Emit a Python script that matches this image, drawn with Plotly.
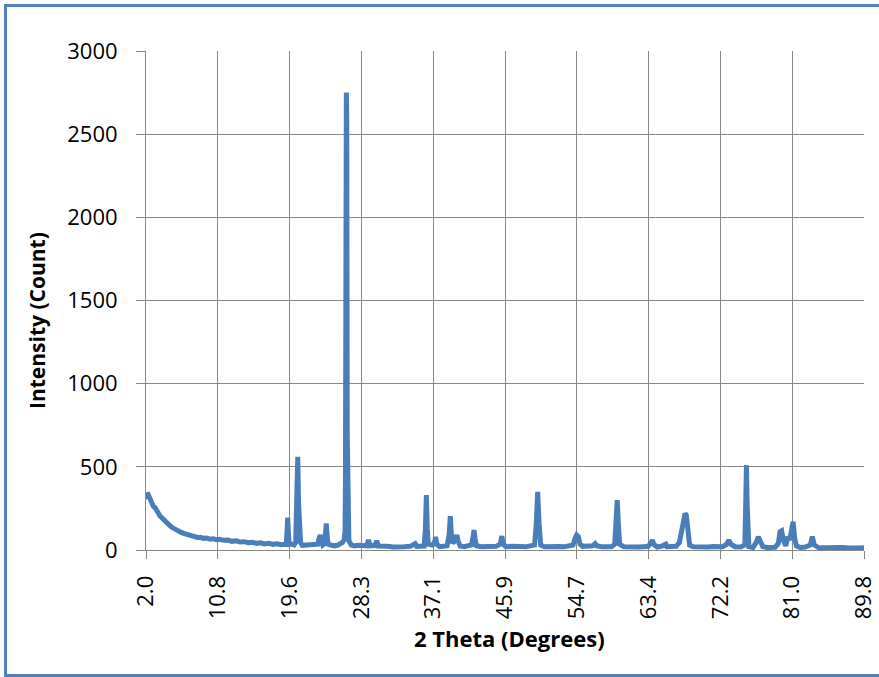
import plotly.graph_objects as go

# XRD scan: diffraction angle (2-theta, degrees) and measured intensity (counts)
two_theta = [
    2.0, 2.15, 2.3, 2.5, 2.7, 2.9, 3.1, 3.3, 3.5, 3.7, 3.9, 4.1, 4.3, 4.5, 4.8,
    5.1, 5.4, 5.7, 6.0, 6.3, 6.6, 6.9, 7.2, 7.5, 7.8, 8.1, 8.4, 8.7, 9.0, 9.4,
    9.8, 10.2, 10.6, 11.0, 11.5, 12.0, 12.5, 13.0, 13.5, 14.0, 14.5, 15.0, 15.5,
    16.0, 16.5, 17.0, 17.5, 18.0, 18.5, 19.0,
    19.15, 19.25, 19.32, 19.4, 19.5, 19.8, 20.1, 20.3, 20.45, 20.55, 20.65,
    20.72, 20.8, 20.9, 21.1, 21.5, 21.9, 22.3, 22.7, 23.0, 23.15, 23.3, 23.45,
    23.6, 23.85, 23.95, 24.03, 24.12, 24.25, 24.6, 25.0, 25.4, 25.7, 26.0, 26.2,
    26.33, 26.38, 26.43, 26.49, 26.54, 26.6, 26.68, 26.8, 27.1, 27.5, 28.0, 28.5,
    29.0, 29.2, 29.4, 30.0, 30.2, 30.4, 30.9, 31.5, 32.2, 32.9, 33.6, 34.3, 34.7,
    34.9, 35.1, 35.6, 36.0, 36.15, 36.27, 36.38, 36.5, 37.0, 37.25, 37.4, 37.55,
    37.9, 38.4, 38.8, 39.05, 39.2, 39.33, 39.5, 39.8, 40.0, 40.15, 40.4, 40.9,
    41.4, 41.8, 41.98, 42.1, 42.22, 42.4, 43.0, 43.6, 44.2, 44.8, 45.3, 45.5,
    45.65, 46.0, 46.6, 47.2, 47.8, 48.4, 49.0, 49.5, 49.7, 49.88, 50.05, 50.25,
    50.7, 51.3, 51.9, 52.5, 53.1, 53.7, 54.2, 54.45, 54.65, 54.85, 55.05, 55.4,
    56.0, 56.6, 56.9, 57.1, 57.7, 58.3, 58.9, 59.3, 59.45, 59.6, 59.75, 59.9,
    60.4, 61.0, 61.6, 62.2, 62.8, 63.4, 63.75, 63.9, 64.05, 64.5, 65.0, 65.4,
    65.55, 65.7, 66.3, 66.8, 67.2, 67.45, 67.7, 67.9, 68.05, 68.25, 68.45, 68.9,
    69.5, 70.1, 70.7, 71.3, 71.9, 72.5, 73.0, 73.25, 73.5, 74.0, 74.7, 75.2,
    75.32, 75.4, 75.48, 75.6, 75.7, 76.2, 76.65, 76.85, 77.05, 77.4, 77.9, 78.4,
    78.9, 79.3, 79.5, 79.7, 79.9, 80.2, 80.45, 80.7, 80.95, 81.1, 81.3, 81.5,
    82.0, 82.6, 83.2, 83.45, 83.7, 84.2, 84.9, 85.6, 86.3, 87.0, 87.7, 88.4,
    89.1, 89.77,
]
intensity = [
    345, 325, 330, 300, 290, 262, 255, 232, 222, 205, 195, 180, 172, 160, 150,
    138, 130, 120, 114, 106, 100, 96, 88, 90, 80, 82, 74, 76, 70, 72,
    65, 68, 62, 64, 58, 60, 52, 55, 48, 50, 44, 46, 40,
    43, 36, 40, 34, 37, 32, 35,
    34, 120, 195, 110, 34, 36, 30, 45, 300, 560, 280,
    120, 130, 45, 28, 30, 25, 28, 32, 35, 70, 90, 50,
    30, 40, 110, 160, 100, 35, 30, 25, 28, 35, 45, 60,
    110, 400, 2000, 2750, 2600, 700, 150, 55, 30, 25, 28, 25,
    25, 60, 25, 28, 55, 24, 20, 22, 18, 22, 19, 22, 30,
    38, 22, 20, 24, 120, 330, 130, 35, 30, 40, 78, 35,
    20, 22, 25, 90, 204, 90, 40, 60, 90, 55, 24, 20,
    22, 30, 80, 120, 70, 25, 20, 22, 18, 22, 35, 84,
    35, 20, 22, 18, 21, 19, 22, 30, 150, 350, 160, 30,
    20, 22, 18, 21, 19, 22, 30, 70, 90, 80, 35, 22,
    20, 25, 38, 25, 20, 22, 20, 35, 150, 300, 150, 35,
    20, 18, 22, 18, 20, 22, 45, 60, 35, 18, 22, 30,
    35, 20, 20, 22, 45, 120, 150, 220, 210, 90, 30, 20,
    18, 22, 18, 21, 19, 20, 35, 60, 35, 20, 18, 30,
    300, 510, 280, 40, 20, 15, 50, 80, 50, 20, 15, 18,
    16, 40, 110, 116, 60, 25, 80, 60, 160, 170, 70, 25,
    15, 18, 30, 80, 30, 15, 13, 16, 12, 15, 13, 16,
    12, 14,
]

# Axis ticks
x_tick_pos = [2.0, 10.78, 19.55, 28.33, 37.11, 45.89, 54.66, 63.44, 72.22, 80.99, 89.77]
x_tick_text = ["2.0", "10.8", "19.6", "28.3", "37.1", "45.9", "54.7", "63.4", "72.2", "81.0", "89.8"]
y_tick_vals = [0, 500, 1000, 1500, 2000, 2500, 3000]

LINE_BLUE = "#4a7ebb"
GRID = "#878787"
FONT = "Open Sans"

fig = go.Figure()
fig.add_trace(go.Scatter(
    x=two_theta, y=intensity, mode="lines",
    line=dict(color=LINE_BLUE, width=5),
    showlegend=False, hoverinfo="x+y",
))

W, H = 879, 677
L, R, T, B = 146, 15, 51, 127
pw, ph = W - L - R, H - T - B


def px_x(px):
    return (px - L) / pw


def px_y(py):
    return (H - B - py) / ph


fig.update_layout(
    width=W, height=H,
    margin=dict(l=L, r=R, t=T, b=B),
    paper_bgcolor="white", plot_bgcolor="white",
    font=dict(family=FONT, size=22, color="#000000"),
    xaxis=dict(
        range=[2.0, 89.77], tickmode="array", tickvals=x_tick_pos, ticktext=x_tick_text,
        tickangle=-90, ticks="outside", ticklen=8, tickcolor=GRID, tickwidth=1,
        ticklabelstandoff=8, automargin=False,
        showgrid=True, gridcolor=GRID, gridwidth=1,
        showline=True, linecolor=GRID, linewidth=1, zeroline=False,
        tickfont=dict(family=FONT, size=22, color="#000000"),
    ),
    yaxis=dict(
        range=[0, 3000], tickmode="array", tickvals=y_tick_vals,
        ticks="outside", ticklen=9, tickcolor=GRID, tickwidth=1,
        ticklabelstandoff=14, automargin=False,
        showgrid=True, gridcolor=GRID, gridwidth=1,
        showline=True, linecolor=GRID, linewidth=1, zeroline=False,
        tickfont=dict(family=FONT, size=22, color="#000000"),
    ),
    annotations=[
        dict(text="<b>2 Theta (Degrees)</b>", xref="paper", yref="paper",
             x=px_x(509), y=px_y(638), xanchor="center", yanchor="middle",
             showarrow=False, font=dict(family=FONT, size=22, color="#000000")),
        dict(text="<b>Intensity (Count)</b>", xref="paper", yref="paper",
             x=px_x(37), y=px_y(320), xanchor="center", yanchor="middle",
             textangle=-90, showarrow=False,
             font=dict(family=FONT, size=21, color="#000000")),
    ],
    shapes=[
        dict(type="rect", xref="paper", yref="paper",
             x0=px_x(5.5), x1=px_x(890), y0=px_y(675.5), y1=px_y(5.5),
             line=dict(color="#4f81bd", width=3), fillcolor="rgba(0,0,0,0)",
             layer="above"),
    ],
)

fig.write_html("out.html")
